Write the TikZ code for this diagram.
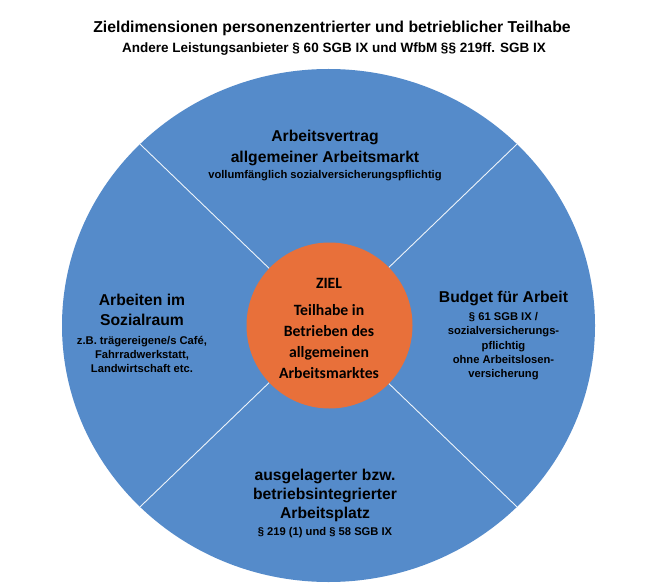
\documentclass[tikz,border=0pt]{standalone}
\usepackage{fontspec}
\setmainfont{Liberation Sans}
\newfontfamily\calibrifont{Carlito}
\definecolor{sectorblue}{HTML}{558BCA}
\definecolor{goalorange}{HTML}{E8703A}

\begin{document}
\begin{tikzpicture}[x=1pt,y=-1pt,
  sectortext/.style={align=center, inner sep=0pt, font=\bfseries},
  headtext/.style={sectortext, font=\bfseries\fontsize{15.7}{#1}\selectfont},
  notetext/.style={sectortext, font=\bfseries\fontsize{11.2}{#1}\selectfont}]
% define variables
\def\cx{328.5}
\def\cy{325.5}
\def\rx{266.5}
\def\ry{256.5}
\useasboundingbox (0,0) rectangle (650,588);

% headline
\node[sectortext, font=\bfseries\fontsize{15.8}{19}\selectfont] (title) at (332,28) {Zieldimensionen personenzentrierter und betrieblicher Teilhabe};
\node[sectortext, font=\bfseries\fontsize{13.5}{16}\selectfont] (subtitle) at (334,49) {Andere Leistungsanbieter § 60 SGB IX und WfbM §§ 219ff. SGB IX};

% outer disc
\fill[sectorblue] (\cx,\cy) ellipse [x radius=\rx, y radius=\ry];

% separating lines
\foreach \a in {45,135,225,315}{
	\draw[white!90!sectorblue, line width=0.9pt] (\cx,\cy) -- ({\cx+\rx*cos(\a)}, {\cy+\ry*sin(\a)});
}

% goal circle
\fill[goalorange] (329.5,\cy) circle (83);

% text
\node[headtext=21] (contract) at (325,147.7) {Arbeitsvertrag\\allgemeiner Arbeitsmarkt};
\node[notetext=14.2] (contractnote) at (325,175.8) {vollumfänglich sozialversicherungspflichtig};
\node[headtext=19.5] (social) at (142,309.9) {Arbeiten im\\Sozialraum};
\node[notetext=14.2] (socialnote) at (142,354.5) {z.B. trägereigene/s Café,\\Fahrradwerkstatt,\\Landwirtschaft etc.};
\node[headtext=19.5] (budget) at (503.5,298.5) {Budget für Arbeit};
\node[notetext=14.3] (budgetnote) at (503.5,346.2) {§ 61 SGB IX /\\sozialversicherungs-\\pflichtig\\ohne Arbeitslosen-\\versicherung};
\node[headtext=19.2] (workplace) at (325,495.3) {ausgelagerter bzw.\\betriebsintegrierter\\Arbeitsplatz};
\node[notetext=14.2] (workplacenote) at (325,532.5) {§ 219 (1) und § 58 SGB IX};
\node[sectortext, font=\calibrifont\bfseries\fontsize{15.7}{20.7}\selectfont] (goal) at (329,328) {ZIEL\\[7.2pt]Teilhabe in\\Betrieben des\\allgemeinen\\Arbeitsmarktes};
\end{tikzpicture}
\end{document}
